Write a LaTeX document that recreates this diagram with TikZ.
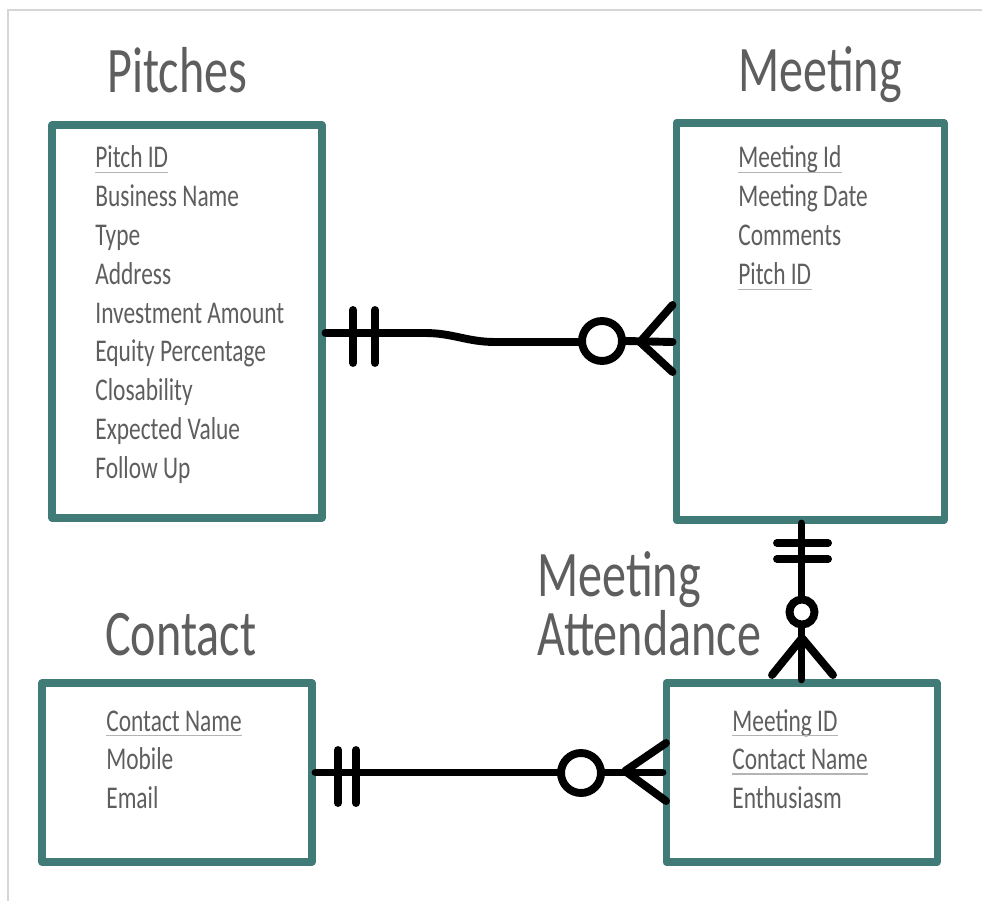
\documentclass[tikz,border=0pt]{standalone}
\usepackage{fontspec}
\setmainfont{Carlito}[FakeStretch=0.74]
\usetikzlibrary{fit}

\definecolor{entityteal}{HTML}{407B78}
\definecolor{fieldgray}{HTML}{5E5E5E}
\definecolor{keyline}{HTML}{B4B4B4}
\definecolor{framegray}{HTML}{D6D6D6}

\begin{document}
\begin{tikzpicture}[x=0.02cm,y=-0.02cm,
		entity/.style={draw=entityteal,line width=4pt,inner sep=0pt,line join=round},
		title/.style={anchor=base west,inner sep=0pt,text=fieldgray,font=\fontsize{37}{29.5}\selectfont},
		field/.style={anchor=base west,inner sep=0pt,text=fieldgray,font=\fontsize{18}{20}\selectfont},
		rel/.style={line width=4.5pt,line cap=round,line join=round},
		ring/.style={circle,draw,line width=4.5pt,fill=white,inner sep=0pt,minimum size=#1}]
		\useasboundingbox (0,0) rectangle (982,901);
		\draw[framegray,line width=1.2pt] (8,901) -- (8,10) -- (982,10);

		\node[entity,fit={(52,125) (322,518)}] (pitches) {};
		\node[entity,fit={(676,123) (944,520)}] (meeting) {};
		\node[entity,fit={(42,683) (312,862)}] (contact) {};
		\node[entity,fit={(666,683) (937,862)}] (attend) {};

		\node[title] (pitchesT) at (107,93) {Pitches};
		\node[title] (meetingT) at (738,92) {Meeting};
		\node[title] (contactT) at (105,655) {Contact};
		\node[title,align=left] (attendT) at (537,655) {Meeting\\Attendance};

		\foreach \f [count=\i] in {Pitch ID,Business Name,Type,Address,Investment Amount,Equity Percentage,Closability,Expected Value,Follow Up}
			\node[field] (p\i) at (95,{168+38.8*(\i-1)}) {\f};
		\foreach \f [count=\i] in {Meeting Id,Meeting Date,Comments,Pitch ID}
			\node[field] (m\i) at (738,{168+39*(\i-1)}) {\f};
		\foreach \f [count=\i] in {Contact Name,Mobile,Email}
			\node[field] (c\i) at (106,{731+38.5*(\i-1)}) {\f};
		\foreach \f [count=\i] in {Meeting ID,Contact Name,Enthusiasm}
			\node[field] (a\i) at (732,{731+38.5*(\i-1)}) {\f};
		% key fields
		\foreach \k in {p1,m1,m4,c1,a1,a2}
			\draw[keyline,line width=0.8pt] ([yshift=-2.5pt]\k.base west) -- ([yshift=-2.5pt]\k.base east);

		% pitches -- meeting
		\draw[rel] ([yshift=-0.23cm]pitches.east) -- (425,333) to[out=0,in=180] (495,342) -- (590,342);
		\draw[rel] (353,310) -- (353,363) (375,310) -- (375,363);
		\node[ring=0.8cm] (o1) at (602,341) {};
		\coordinate (f1) at (640,342);
		\draw[rel] (o1.east) -- ([yshift=-0.41cm]meeting.west);
		\draw[rel] (meeting.west |- 0,305) -- (f1) -- (meeting.west |- 0,372);

		% meeting -- attendance
		\draw[rel] (meeting.south -| attend.north) -- (attend.north);
		\draw[rel] (777,543) -- (828,543) (777,559) -- (828,559);
		\node[ring=0.5cm] (o2) at (802,612) {};
		\coordinate (f2) at (802,638);
		\draw[rel] (772,675) -- (f2) -- (833,675);

		% contact -- attendance
		\draw[rel] (contact.east) -- (attend.west);
		\draw[rel] (338,750) -- (338,803) (356,750) -- (356,803);
		\node[ring=0.8cm] (o3) at (581,773) {};
		\coordinate (f3) at (625,771);
		\draw[rel] (666,743) -- (f3) -- (666,801);
	\end{tikzpicture}
\end{document}
